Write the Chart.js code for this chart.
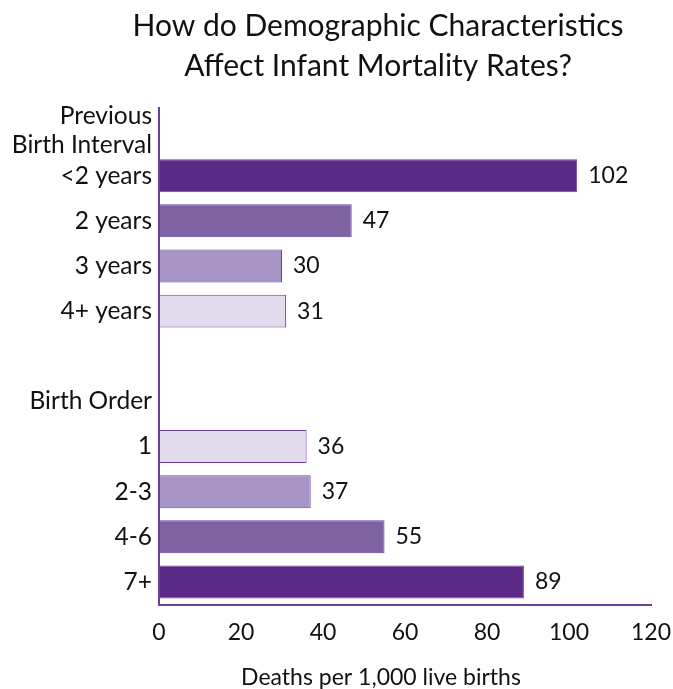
<!DOCTYPE html>
<html>
<head>
<meta charset="utf-8">
<script src="https://cdn.jsdelivr.net/npm/chart.js@4.4.1/dist/chart.umd.min.js"></script>
<style>
  html, body { margin: 0; padding: 0; background: #fff; }
  #wrap { width: 673px; height: 689px; position: relative; }
</style>
</head>
<body>
<div id="wrap"><canvas id="chart" width="673" height="689"></canvas></div>
<script>
// chart data
const titleLines = ['How do Demographic Characteristics', 'Affect Infant Mortality Rates?'];
const xTitle = 'Deaths per 1,000 live births';
const categories = [['Previous', 'Birth Interval'], '<2 years', '2 years', '3 years', '4+ years', '', 'Birth Order', '1', '2-3', '4-6', '7+'];
const deaths = [null, 102, 47, 30, 31, null, null, 36, 37, 55, 89];
const xTicks = [0, 20, 40, 60, 80, 100, 120];

const purple = '#6b3fa0';
const barColors = [null, '#5b2a89', '#7f62a1', '#a895c5', '#e1dbed', null, null, '#e1dbed', '#a895c5', '#7f62a1', '#5b2a89'];
const FONT = 'Lato, "Open Sans", sans-serif';

// value labels to the right of the bars, plus the two titles
const textPlugin = {
    id: 'textPlugin',
    afterDraw(chart) {
        const ctx = chart.ctx;
        ctx.save();
        ctx.fillStyle = '#111';
        ctx.textBaseline = 'middle';
        ctx.textAlign = 'left';
        ctx.font = '23px ' + FONT;
        chart.getDatasetMeta(0).data.forEach((bar, i) => {
            if (deaths[i] == null) return;
            ctx.fillText(String(deaths[i]), bar.x + 11, bar.y);
        });

        ctx.textAlign = 'center';
        ctx.font = '30px ' + FONT;
        titleLines.forEach((line, i) => ctx.fillText(line, 378, 26 + i * 40));
        ctx.font = '23px ' + FONT;
        ctx.fillText(xTitle, 381, 678);
        ctx.restore();
    }
};

new Chart(document.getElementById('chart'), {
    type: 'bar',
    data: {
        labels: categories,
        datasets: [{
            data: deaths,
            backgroundColor: barColors,
            borderColor: purple,
            borderWidth: 1,
            borderSkipped: false,
            barPercentage: 0.73,
            categoryPercentage: 1
        }]
    },
    options: {
        indexAxis: 'y',
        responsive: false,
        animation: false,
        layout: { padding: { top: 108, right: 22, left: 0, bottom: 0 } },
        plugins: {
            legend: { display: false },
            tooltip: { enabled: false },
            title: { display: false }
        },
        scales: {
            x: {
                min: 0,
                max: 120,
                afterBuildTicks: (s) => { s.ticks = xTicks.map(v => ({ value: v })); },
                afterFit: (s) => { s.height = 84.5; s.paddingLeft = 0; s.paddingRight = 0; },
                grid: { display: false, drawTicks: false },
                border: { display: true, color: purple, width: 2 },
                ticks: { color: '#111', padding: 14, font: { family: FONT, size: 23 } }
            },
            y: {
                afterFit: (s) => { s.width = 159; s.paddingTop = 0; s.paddingBottom = 0; },
                grid: { display: false, drawTicks: false },
                border: { display: true, color: purple, width: 2 },
                ticks: { color: '#111', padding: 7, autoSkip: false, font: { family: FONT, size: 24.5, lineHeight: 1.15 } }
            }
        }
    },
    plugins: [textPlugin]
});
</script>
</body>
</html>
